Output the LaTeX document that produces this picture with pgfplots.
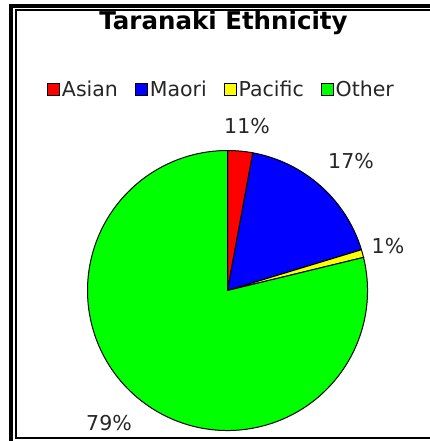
\documentclass[border=0pt]{standalone}
\usepackage{pgfplots}
\pgfplotsset{compat=1.18}
\usepackage{pgfplotstable}
\usepackage{fontspec}
\setmainfont{DejaVu Sans}

\pgfplotstableread{
label value
Asian 2.9
Maori 17.4
Pacific 0.9
Other 78.8
}\piedata

\definecolor{cAsian}{RGB}{255,0,0}
\definecolor{cMaori}{RGB}{0,0,255}
\definecolor{cPacific}{RGB}{255,255,0}
\definecolor{cOther}{RGB}{0,255,0}

\begin{document}
\begin{tikzpicture}
\pgfplotstablegetelem{0}{value}\of\piedata \let\vA\pgfplotsretval
\pgfplotstablegetelem{1}{value}\of\piedata \let\vB\pgfplotsretval
\pgfplotstablegetelem{2}{value}\of\piedata \let\vC\pgfplotsretval
\pgfplotstablegetelem{3}{value}\of\piedata \let\vD\pgfplotsretval
\pgfmathsetmacro\aA{90}
\pgfmathsetmacro\aB{\aA-3.6*\vA}
\pgfmathsetmacro\aC{\aB-3.6*\vB}
\pgfmathsetmacro\aD{\aC-3.6*\vC}
\pgfmathsetmacro\aE{\aD-3.6*\vD}
\begin{axis}[
  scale only axis, width=430pt, height=441pt,
  xmin=0, xmax=430, ymin=0, ymax=441, y dir=reverse,
  hide axis, clip=false,
  legend columns=4,
  legend cell align=left,
  legend image code/.code={\draw[#1, draw=black, line width=0.9pt] (0pt,-6pt) rectangle (12pt,6pt);},
  legend style={draw=none, fill=none, at={(axis cs:221.5,89)}, anchor=center,
    font=\fontsize{20.5}{24}\selectfont, nodes={inner sep=2pt}, text=black!85,
    /tikz/every even column/.append style={column sep=15pt}},
]
\addlegendimage{fill=cAsian}\addlegendentry{Asian}
\addlegendimage{fill=cMaori}\addlegendentry{Maori}
\addlegendimage{fill=cPacific}\addlegendentry{Pacific}
\addlegendimage{fill=cOther}\addlegendentry{Other}

% frame
\draw[line width=4pt] (axis cs:11,441) -- (axis cs:11,6) -- (axis cs:430,6);
\draw[line width=2pt] (axis cs:430,10.5) -- (axis cs:15.5,10.5) -- (axis cs:15.5,438) -- (axis cs:430,438);

% title
\node[anchor=base, font=\fontsize{24.5}{28}\selectfont\bfseries] at (axis cs:223.5,30) {Taranaki Ethnicity};

% pie
\filldraw[fill=cAsian, draw=black, line width=1pt] (axis cs:227.5,290.5) -- ++(\aA:140pt) arc[start angle=\aA, end angle=\aB, radius=140pt] -- cycle;
\filldraw[fill=cMaori, draw=black, line width=1pt] (axis cs:227.5,290.5) -- ++(\aB:140pt) arc[start angle=\aB, end angle=\aC, radius=140pt] -- cycle;
\filldraw[fill=cPacific, draw=black, line width=1pt] (axis cs:227.5,290.5) -- ++(\aC:140pt) arc[start angle=\aC, end angle=\aD, radius=140pt] -- cycle;
\filldraw[fill=cOther, draw=black, line width=1pt] (axis cs:227.5,290.5) -- ++(\aD:140pt) arc[start angle=\aD, end angle=\aE, radius=140pt] -- cycle;

% labels
\begin{scope}[every node/.style={anchor=base, font=\fontsize{20.5}{24}\selectfont, text=black!85}]
\node at (axis cs:247,133) {11\%};
\node at (axis cs:351,168) {17\%};
\node at (axis cs:388,253) {1\%};
\node at (axis cs:109,430) {79\%};
\end{scope}
\end{axis}
\pgfresetboundingbox
\useasboundingbox (0,0) rectangle (430pt,441pt);
\end{tikzpicture}
\end{document}
